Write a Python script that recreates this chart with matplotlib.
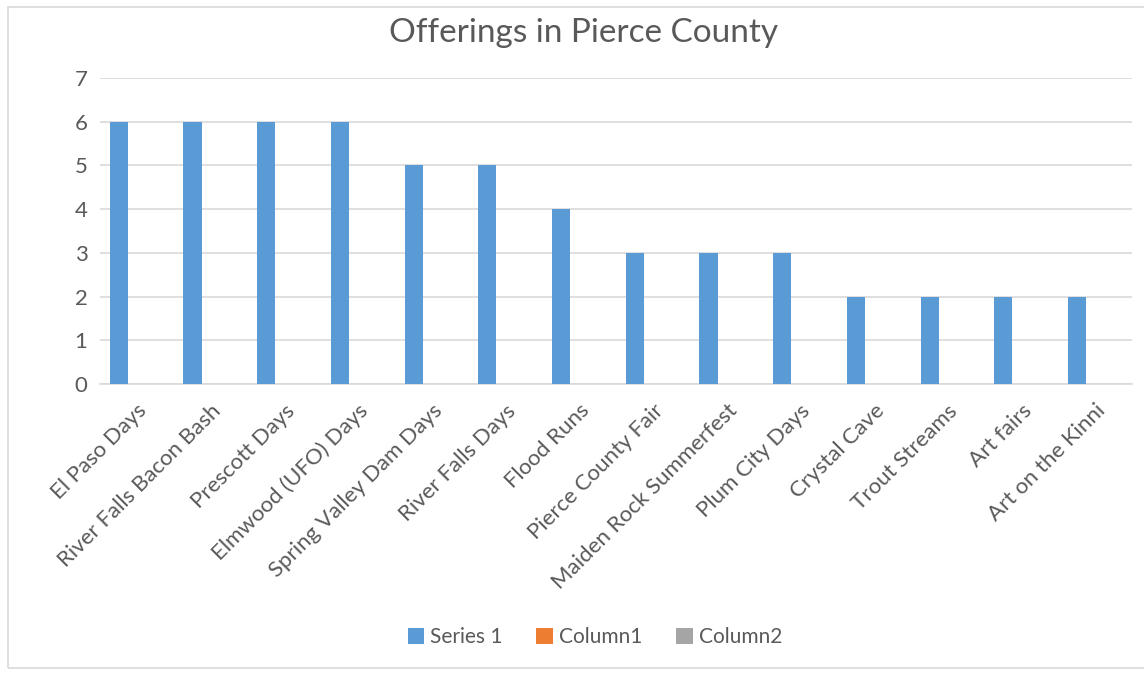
import matplotlib.pyplot as plt
import numpy as np
from matplotlib.patches import Rectangle

categories = ["El Paso Days", "River Falls Bacon Bash", "Prescott Days",
              "Elmwood (UFO) Days", "Spring Valley Dam Days", "River Falls Days",
              "Flood Runs", "Pierce County Fair", "Maiden Rock Summerfest",
              "Plum City Days", "Crystal Cave", "Trout Streams", "Art fairs",
              "Art on the Kinni"]
series1 = [6, 6, 6, 6, 5, 5, 4, 3, 3, 3, 2, 2, 2, 2]
column1 = [0] * len(categories)
column2 = [0] * len(categories)

plt.rcParams['font.family'] = ['Lato', 'DejaVu Sans']
txt = '#595959'

fig = plt.figure(figsize=(11.44, 6.73), dpi=100)
ax = fig.add_axes([100 / 1144, 1 - 384 / 673, 1032 / 1144, 306 / 673])

x = np.arange(len(categories))
w = 0.245
ax.bar(x - w, series1, w, color='#5B9BD5', label='Series 1', zorder=3)
ax.bar(x, column1, w, color='#ED7D31', label='Column1', zorder=3)
ax.bar(x + w, column2, w, color='#A5A5A5', label='Column2', zorder=3)

ax.set_xlim(-0.5, len(categories) - 0.5)
ax.set_ylim(0, 7)
ax.set_yticks(range(8))
ax.yaxis.grid(True, color='#D9D9D9', linewidth=1.2, zorder=0)
for s in ['top', 'right', 'left']:
    ax.spines[s].set_visible(False)
ax.spines['bottom'].set_color('#D9D9D9')
ax.spines['bottom'].set_linewidth(1.2)
ax.tick_params(length=0, labelcolor=txt, labelsize=16)
ax.tick_params(axis='y', pad=9)
ax.tick_params(axis='x', pad=12)
ax.set_xticks(x)
ax.set_xticklabels(categories, rotation=45, ha='right', rotation_mode='anchor')

fig.text(0.51, 1 - 33 / 673, "Offerings in Pierce County", ha='center', va='center',
         fontsize=24, color=txt)

fig.legend(loc='center', bbox_to_anchor=(0.52, 1 - 637 / 673), ncol=3, frameon=False,
           fontsize=15, labelcolor=txt, handlelength=0.8, handleheight=0.8,
           columnspacing=1.6, handletextpad=0.3)

fig.patches.append(Rectangle((8 / 1144, 1 - 668 / 673), 1.1, 661 / 673,
                             transform=fig.transFigure, fill=False,
                             edgecolor='#D9D9D9', linewidth=1.2))

plt.savefig("out.png")
